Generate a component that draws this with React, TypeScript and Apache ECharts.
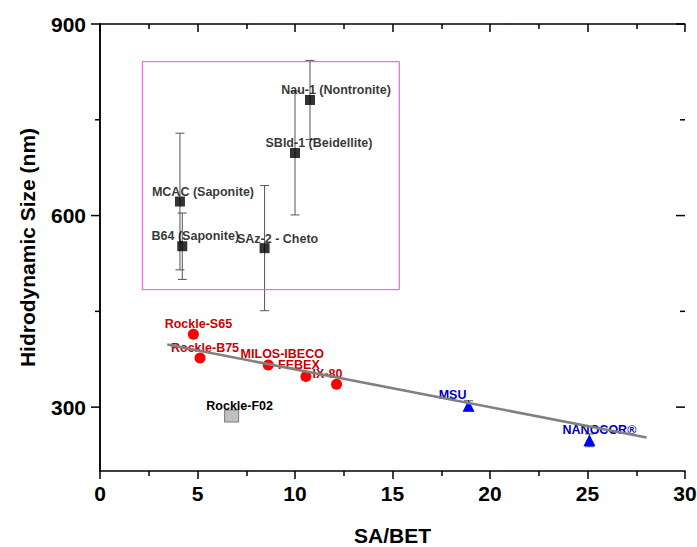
import React, { useEffect, useRef } from "react";
import * as echarts from "echarts";

// ---- data ----
const clayNames = ["Nau-1 (Nontronite)", "SBId-1 (Beidellite)", "MCAC (Saponite)", "B64 (Saponite)", "SAz-2 - Cheto"];
const clayX = [10.77, 10.0, 4.1, 4.22, 8.44];
const clayY = [781, 698, 622, 552, 549];
const clayErr = [62, 97, 107, 52, 98];

const bentNames = ["Rockle-S65", "Rockle-B75", "MILOS-IBECO", "FEBEX", "IX-80"];
const bentX = [4.79, 5.13, 8.63, 10.56, 12.13];
const bentY = [414, 377, 366, 348, 336];

const f02Names = ["Rockle-F02"];
const f02X = [6.75];
const f02Y = [286];

const synNames = ["MSU", "NANOCOR®"];
const synX = [18.9, 25.1];
const synY = [302, 248];
const synErr = [8, 10];

const trendX = [3.45, 28.03];
const trendY = [398, 252.5];

const boxX = [2.17, 15.35];
const boxY = [484, 841];

const xTicks = [0, 5, 10, 15, 20, 25, 30];
const yTicks = [300, 600, 900];
const yTickMarks = [300, 450, 600, 750, 900];

// ---- label layout (pixel offsets from symbol centre) ----
const clayLabelOffsets = [[26, -10], [24, -10], [23, -10], [13, -10], [13, -9]];
const bentLabelOffsets = [[5, -10], [5, -10], [14, -11], [-7, -11], [-9, -10]];
const f02LabelOffsets = [[8, -10]];
const synLabelOffsets = [[-16, -11], [10, -10]];

const FONT = "Liberation Sans, Arial, sans-serif";
const X_MIN = 0;
const X_MAX = 30;

function pts(xs: number[], ys: number[], names: string[], offs: number[][], color: string) {
  return xs.map((x, i) => ({
    name: names[i],
    value: [x, ys[i]],
    label: {
      show: true,
      position: "inside",
      offset: offs[i],
      formatter: names[i],
      color,
      fontFamily: FONT,
      fontWeight: "bold",
      fontSize: 12.5,
    },
  }));
}

function errSeries(xs: number[], ys: number[], es: number[]) {
  return {
    type: "custom",
    z: 1,
    silent: true,
    data: xs.map((x, i) => [x, ys[i], es[i]]),
    renderItem: (params: any, api: any) => {
      const x = api.value(0);
      const y = api.value(1);
      const e = api.value(2);
      const t = api.coord([x, y + e]);
      const b = api.coord([x, y - e]);
      const w = 4.5;
      const style = { stroke: "#555", lineWidth: 1 };
      return {
        type: "group",
        children: [
          { type: "line", shape: { x1: t[0], y1: t[1], x2: b[0], y2: b[1] }, style },
          { type: "line", shape: { x1: t[0] - w, y1: t[1], x2: t[0] + w, y2: t[1] }, style },
          { type: "line", shape: { x1: b[0] - w, y1: b[1], x2: b[0] + w, y2: b[1] }, style },
        ],
      };
    },
  };
}

// y-axis tick marks (left: outward, right: inward), placed through the y scale
const yTickSeries = {
  type: "custom",
  z: 5,
  silent: true,
  clip: false,
  data: yTickMarks.map((v) => [v]),
  dimensions: ["y"],
  encode: { y: 0 },
  renderItem: (params: any, api: any) => {
    const v = api.value(0);
    const len = yTicks.includes(v) ? 9 : 5;
    const l = api.coord([X_MIN, v]);
    const r = api.coord([X_MAX, v]);
    const style = { stroke: "#000", lineWidth: 1.5 };
    return {
      type: "group",
      children: [
        { type: "line", shape: { x1: l[0] - len, y1: l[1], x2: l[0], y2: l[1] }, style },
        { type: "line", shape: { x1: r[0] - len, y1: r[1], x2: r[0], y2: r[1] }, style },
      ],
    };
  },
};

export default function App() {
  const ref = useRef<HTMLDivElement>(null);
  useEffect(() => {
    document.body.style.margin = "0";
    const chart = echarts.init(ref.current!, null, { renderer: "svg" });
    const axisLine = { show: true, lineStyle: { color: "#000", width: 1.5 } };
    const option: any = {
      animation: false,
      backgroundColor: "#fff",
      grid: { left: 100, right: 12, top: 24, bottom: 76, containLabel: false, outerBoundsMode: "none" },
      xAxis: [
        {
          type: "value",
          min: X_MIN,
          max: X_MAX,
          interval: 5,
          position: "bottom",
          name: "SA/BET",
          nameLocation: "middle",
          nameGap: 54,
          nameTextStyle: { fontFamily: FONT, fontWeight: "bold", fontSize: 21, color: "#000" },
          axisLine,
          axisTick: { show: true, inside: false, length: 8, lineStyle: { color: "#000", width: 1.5 } },
          minorTick: { show: true, splitNumber: 2, length: 5, lineStyle: { color: "#000", width: 1.5 } },
          splitLine: { show: false },
          axisLabel: {
            margin: 12,
            fontFamily: FONT,
            fontWeight: "bold",
            fontSize: 21,
            color: "#000",
            formatter: (v: number) => (xTicks.includes(v) ? String(v) : ""),
          },
        },
        {
          type: "value",
          min: X_MIN,
          max: X_MAX,
          interval: 5,
          position: "top",
          axisLine,
          axisTick: { show: true, inside: true, length: 8, lineStyle: { color: "#000", width: 1.5 } },
          minorTick: { show: true, splitNumber: 2, length: 5, lineStyle: { color: "#000", width: 1.5 } },
          splitLine: { show: false },
          axisLabel: { show: false },
        },
      ],
      yAxis: [
        {
          type: "value",
          min: 200,
          max: 900,
          interval: 100,
          position: "left",
          name: "Hidrodynamic Size (nm)",
          nameLocation: "middle",
          nameGap: 62,
          nameTextStyle: { fontFamily: FONT, fontWeight: "bold", fontSize: 21, color: "#000" },
          axisLine,
          axisTick: { show: false },
          splitLine: { show: false },
          axisLabel: {
            margin: 14,
            fontFamily: FONT,
            fontWeight: "bold",
            fontSize: 21,
            color: "#000",
            customValues: yTicks,
          },
        },
        {
          type: "value",
          min: 200,
          max: 900,
          interval: 100,
          position: "right",
          axisLine,
          axisTick: { show: false },
          splitLine: { show: false },
          axisLabel: { show: false },
        },
      ],
      series: [
        {
          type: "line",
          silent: true,
          symbol: "none",
          z: 1,
          lineStyle: { color: "#ff40ff", width: 1 },
          data: [
            [boxX[0], boxY[1]],
            [boxX[1], boxY[1]],
            [boxX[1], boxY[0]],
            [boxX[0], boxY[0]],
            [boxX[0], boxY[1]],
          ],
        },
        errSeries(clayX, clayY, clayErr),
        errSeries(synX, synY, synErr),
        yTickSeries,
        {
          type: "scatter",
          symbol: "rect",
          symbolSize: 10,
          z: 3,
          itemStyle: { color: "#000" },
          data: pts(clayX, clayY, clayNames, clayLabelOffsets, "#000"),
        },
        {
          type: "scatter",
          symbol: "circle",
          symbolSize: 11,
          z: 3,
          itemStyle: { color: "#ff0000", opacity: 1 },
          data: pts(bentX, bentY, bentNames, bentLabelOffsets, "#cc0000"),
        },
        {
          type: "scatter",
          symbol: "rect",
          symbolSize: [14, 12],
          z: 3,
          itemStyle: { color: "#c0c0c0", borderColor: "#808080", borderWidth: 1, opacity: 1 },
          data: pts(f02X, f02Y, f02Names, f02LabelOffsets, "#000"),
        },
        {
          type: "scatter",
          symbol: "triangle",
          symbolSize: 12,
          z: 3,
          itemStyle: { color: "#0000ff", opacity: 1 },
          data: pts(synX, synY, synNames, synLabelOffsets, "#0000c0"),
        },
        {
          type: "line",
          silent: true,
          symbol: "none",
          z: 4,
          lineStyle: { color: "#808080", width: 2.5 },
          data: trendX.map((x, i) => [x, trendY[i]]),
        },
      ],
    };
    chart.setOption(option);
    return () => chart.dispose();
  }, []);
  return <div ref={ref} style={{ width: 697, height: 547 }} />;
}
